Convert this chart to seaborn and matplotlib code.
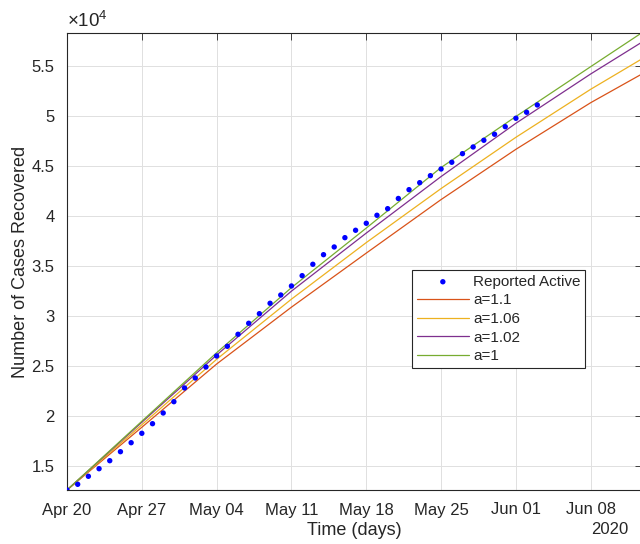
import matplotlib
matplotlib.use('Agg')
import matplotlib.pyplot as plt
import matplotlib.dates as mdates
import matplotlib.ticker as mticker
import seaborn as sns
import pandas as pd

# reported recoveries, one per day from Apr 20 2020
start = pd.Timestamp('2020-04-20')
reported = [12632, 13201, 14001, 14760, 15560, 16459, 17358, 18297, 19257, 20326,
            21455, 22824, 23823, 24922, 26021, 26990, 28189, 29289, 30248, 31287,
            32116, 33016, 34045, 35184, 36143, 36913, 37842, 38581, 39280, 40080,
            40739, 41758, 42638, 43337, 44037, 44706, 45375, 46235, 46904, 47574,
            48173, 48932, 49772, 50372, 51101]

# model curves, read at weekly points
model_days = [0, 7, 14, 21, 28, 35, 42, 49, 53.75]
a_110 = [12632, 18900, 25220, 30900, 36300, 41650, 46670, 51330, 54170]
a_106 = [12632, 19150, 25690, 31700, 37350, 42750, 47870, 52670, 55680]
a_102 = [12632, 19400, 26120, 32500, 38300, 43950, 49270, 54200, 57350]
a_100 = [12632, 19500, 26350, 32850, 38800, 44850, 49950, 54930, 58290]

labels = ['a=1.1', 'a=1.06', 'a=1.02', 'a=1']
colors = ['#D95319', '#EDB120', '#7E2F8E', '#77AC30']

sns.set_style('white')
plt.rcParams['font.family'] = ['Liberation Sans', 'DejaVu Sans']
plt.rcParams['mathtext.fontset'] = 'custom'
plt.rcParams['mathtext.rm'] = 'Liberation Sans'

obs = pd.DataFrame({
    'date': start + pd.to_timedelta(range(len(reported)), unit='D'),
    'cases': reported,
})
mdates_ = start + pd.to_timedelta(model_days, unit='D')

fig = plt.figure(figsize=(6.4, 5.44), dpi=100)
ax = fig.add_axes([67 / 640, 54 / 544, 574.5 / 640, 457 / 544])

sns.scatterplot(data=obs, x='date', y='cases', ax=ax, color='#0000FF', s=15,
                edgecolor='none', label='Reported Active', zorder=3)
for lab, col, vals in zip(labels, colors, [a_110, a_106, a_102, a_100]):
    d = pd.DataFrame({'date': mdates_, 'cases': vals})
    sns.lineplot(data=d, x='date', y='cases', ax=ax, color=col, lw=0.9, label=lab)

all_vals = reported + a_110 + a_106 + a_102 + a_100
ax.set_ylim(min(all_vals), max(all_vals))
ax.set_xlim(start, mdates_[-1])

ax.set_xticks(pd.date_range('2020-04-20', '2020-06-08', freq='7D'))
ax.xaxis.set_major_formatter(mdates.DateFormatter('%b %d'))
ax.set_yticks([15000 + 5000 * i for i in range(9)])
ax.yaxis.set_major_formatter(mticker.FuncFormatter(lambda v, p: '%g' % (v / 1e4)))

ax.grid(True, color='#e0e0e0', lw=0.7)
ax.set_axisbelow(True)
for s in ax.spines.values():
    s.set_color('#262626')
    s.set_linewidth(0.8)
ax.tick_params(direction='in', length=5, width=0.6, top=True, right=True,
               labelsize=12, colors='#262626')
ax.tick_params(axis='x', pad=9)
ax.tick_params(axis='y', pad=9)

ax.set_xlabel('Time (days)', fontsize=13, color='#262626', labelpad=3)
ax.set_ylabel('Number of Cases Recovered', fontsize=13, color='#262626', labelpad=2)
ax.text(0, 1.004, r'$\mathregular{\times10^{4}}$', transform=ax.transAxes,
        ha='left', va='bottom', fontsize=13.5, color='#262626')
fig.text(628 / 640, 1 - 529 / 544, '2020', ha='right', va='center',
         fontsize=12, color='#262626')

leg = ax.legend(loc='upper left', bbox_to_anchor=(0.601, 0.481), fontsize=11,
                frameon=True, fancybox=False, framealpha=1, edgecolor='#262626',
                handlelength=3.4, handletextpad=0.3, labelspacing=0.3,
                borderpad=0.3, borderaxespad=0, markerscale=1.0)
leg.get_frame().set_linewidth(0.8)

fig.savefig('out.png', dpi=100)
